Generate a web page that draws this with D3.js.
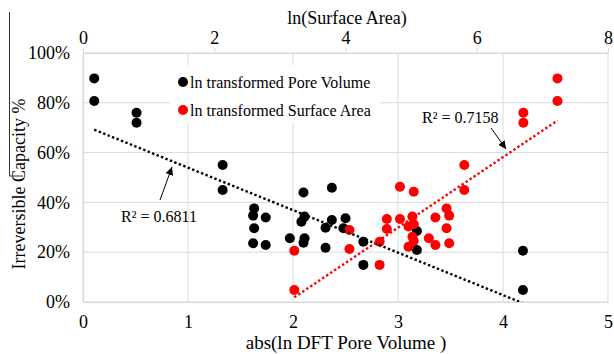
<!DOCTYPE html>
<html>
<head>
<meta charset="utf-8">
<script src="https://cdn.jsdelivr.net/npm/d3@7"></script>
<style>
  body { margin: 0; background: #fff; }
  svg { display: block; font-family: "Liberation Serif", "Times New Roman", serif; }
</style>
</head>
<body>
<svg id="chart" width="614" height="354"></svg>
<script>
// abs(ln DFT Pore Volume) vs irreversible capacity (black, bottom axis)
const poreX = [0.107, 0.107, 0.51, 0.51, 1.33, 1.33, 1.63, 1.62, 1.74, 1.63, 1.62, 1.74, 1.97,
    2.10, 2.11, 2.08, 2.11, 2.10, 2.37, 2.37, 2.31, 2.31, 2.50, 2.48, 2.67, 2.67, 3.18, 3.18, 4.19, 4.19];
const poreY = [0.898, 0.807, 0.760, 0.720, 0.550, 0.450, 0.376, 0.347, 0.339, 0.296, 0.236, 0.229, 0.256,
    0.440, 0.343, 0.322, 0.256, 0.238, 0.459, 0.329, 0.298, 0.218, 0.336, 0.296, 0.242, 0.149, 0.285, 0.209, 0.206, 0.048];

// ln(Surface Area) vs irreversible capacity (red, top axis)
const areaX = [7.23, 7.23, 6.71, 6.71, 5.81, 5.81, 5.54, 5.58, 5.37, 5.54, 5.58, 5.37, 5.27,
    5.04, 5.02, 5.04, 4.96, 5.02, 5.04, 4.96, 4.83, 4.83, 4.63, 4.63, 4.52, 4.52, 4.06, 4.06, 3.22, 3.22];
const areaY = [0.898, 0.807, 0.760, 0.720, 0.550, 0.450, 0.376, 0.347, 0.339, 0.296, 0.236, 0.229, 0.256,
    0.443, 0.343, 0.312, 0.303, 0.262, 0.245, 0.222, 0.463, 0.333, 0.333, 0.293, 0.242, 0.149, 0.289, 0.213, 0.206, 0.048];

const bottomTicks = [0, 1, 2, 3, 4, 5];
const topTicks = [0, 2, 4, 6, 8];
const yTicks = [0, 0.2, 0.4, 0.6, 0.8, 1.0];
const seriesNames = ['ln transformed Pore Volume', 'ln transformed Surface Area'];
const r2Labels = ['R\u00b2 = 0.6811', 'R\u00b2 = 0.7158'];

const svg = d3.select('#chart');
const pLeft = 83, pRight = 608, pTop = 53, pBottom = 302;

const x = d3.scaleLinear().domain([0, 5]).range([pLeft, pRight]);
const x2 = d3.scaleLinear().domain([0, 8]).range([pLeft, pRight]);
const y = d3.scaleLinear().domain([0, 1]).range([pBottom, pTop]);

const grid = '#d9d9d9';

// gridlines
svg.append('g').selectAll('line')
    .data(yTicks)
    .join('line')
    .attr('x1', pLeft).attr('x2', pRight)
    .attr('y1', d => y(d)).attr('y2', d => y(d))
    .attr('stroke', grid).attr('stroke-width', 1);

svg.append('g').selectAll('line')
    .data(bottomTicks)
    .join('line')
    .attr('x1', d => x(d)).attr('x2', d => x(d))
    .attr('y1', pTop).attr('y2', pBottom)
    .attr('stroke', grid).attr('stroke-width', 1);

// axes
const yAxis = svg.append('g')
    .attr('transform', `translate(${pLeft},0)`)
    .call(d3.axisLeft(y).tickValues(yTicks).tickFormat(d3.format('.0%')).tickSize(0).tickPadding(13));
const xAxis = svg.append('g')
    .attr('transform', `translate(0,${pBottom})`)
    .call(d3.axisBottom(x).tickValues(bottomTicks).tickFormat(d3.format('d')).tickSize(0).tickPadding(13));
const x2Axis = svg.append('g')
    .attr('transform', `translate(0,${pTop})`)
    .call(d3.axisTop(x2).tickValues(topTicks).tickFormat(d3.format('d')).tickSizeInner(5).tickSizeOuter(0).tickPadding(4));

[yAxis, xAxis, x2Axis].forEach(a => {
    a.select('.domain').attr('stroke', grid);
    a.selectAll('.tick line').attr('stroke', grid);
    a.selectAll('.tick text')
        .attr('fill', '#000')
        .style('font-size', '18px')
        .style('font-family', '"Liberation Serif", serif');
});

// axis titles
svg.append('text')
    .attr('x', 347).attr('y', 24)
    .attr('text-anchor', 'middle')
    .style('font-size', '18px')
    .text('ln(Surface Area)');

svg.append('text')
    .attr('x', 346).attr('y', 349)
    .attr('text-anchor', 'middle')
    .style('font-size', '19px')
    .text('abs(ln DFT Pore Volume )');

svg.append('text')
    .attr('transform', 'translate(25,184) rotate(-90)')
    .attr('text-anchor', 'middle')
    .style('font-size', '18px')
    .text('Irreversible Capacity %');

// stray border line next to the y title
svg.append('path')
    .attr('d', 'M9.5,12 V176 H23')
    .attr('fill', 'none')
    .attr('stroke', '#333')
    .attr('stroke-width', 1);

// legend (white box hides gridlines behind it)
const legend = svg.append('g');
legend.append('rect')
    .attr('x', 170).attr('y', 65)
    .attr('width', 210).attr('height', 58)
    .attr('fill', '#fff');
const colors = ['#000', '#ff0000'];
const items = legend.selectAll('g.item')
    .data(seriesNames)
    .join('g')
    .attr('class', 'item')
    .attr('transform', (d, i) => `translate(183,${82 + i * 28})`);
items.append('circle')
    .attr('r', 5)
    .attr('fill', (d, i) => colors[i]);
items.append('text')
    .attr('x', 7).attr('y', 5.5)
    .style('font-size', '16px')
    .text(d => d);

// clip for trendlines
svg.append('clipPath').attr('id', 'plotclip')
    .append('rect')
    .attr('x', pLeft).attr('y', pTop)
    .attr('width', pRight - pLeft).attr('height', bottom_h());
function bottom_h() { return pBottom - pTop; }

// least squares fit
function fit(xs, ys) {
    const mx = d3.mean(xs), my = d3.mean(ys);
    let sxy = 0, sxx = 0;
    xs.forEach((v, i) => { sxy += (v - mx) * (ys[i] - my); sxx += (v - mx) * (v - mx); });
    const slope = sxy / sxx;
    return { slope: slope, icept: my - slope * mx };
}

// points
const black = poreX.map((v, i) => ({ x: v, y: poreY[i] }));
const red = areaX.map((v, i) => ({ x: v, y: areaY[i] }));

svg.append('g').selectAll('circle')
    .data(black)
    .join('circle')
    .attr('cx', d => x(d.x)).attr('cy', d => y(d.y))
    .attr('r', 5)
    .attr('fill', '#000');

svg.append('g').selectAll('circle')
    .data(red)
    .join('circle')
    .attr('cx', d => x2(d.x)).attr('cy', d => y(d.y))
    .attr('r', 5)
    .attr('fill', '#ff0000');

// trendlines
const trends = [
    { xs: poreX, ys: poreY, sc: x, color: '#000' },
    { xs: areaX, ys: areaY, sc: x2, color: '#ff0000' }
];
trends.forEach(t => {
    const f = fit(t.xs, t.ys);
    const ext = d3.extent(t.xs);
    svg.append('line')
        .attr('clip-path', 'url(#plotclip)')
        .attr('x1', t.sc(ext[0])).attr('y1', y(f.icept + f.slope * ext[0]))
        .attr('x2', t.sc(ext[1])).attr('y2', y(f.icept + f.slope * ext[1]))
        .attr('stroke', t.color)
        .attr('stroke-width', 2.4)
        .attr('stroke-dasharray', '2.4 2.4');
});

// R² labels with arrows
svg.append('defs').append('marker')
    .attr('id', 'arrow')
    .attr('viewBox', '0 0 10 10')
    .attr('refX', 10).attr('refY', 5)
    .attr('markerWidth', 8).attr('markerHeight', 8)
    .attr('markerUnits', 'userSpaceOnUse')
    .attr('orient', 'auto')
    .append('path')
    .attr('d', 'M0,0 L10,5 L0,10 z')
    .attr('fill', '#000');

svg.append('line')
    .attr('x1', 160).attr('y1', 200).attr('x2', 172).attr('y2', 167)
    .attr('stroke', '#000').attr('stroke-width', 1)
    .attr('marker-end', 'url(#arrow)');
svg.append('line')
    .attr('x1', 491).attr('y1', 128).attr('x2', 506).attr('y2', 149)
    .attr('stroke', '#000').attr('stroke-width', 1)
    .attr('marker-end', 'url(#arrow)');

svg.append('text')
    .attr('x', 121).attr('y', 222)
    .style('font-size', '16px')
    .text(r2Labels[0]);
svg.append('text')
    .attr('x', 422).attr('y', 123)
    .style('font-size', '16px')
    .text(r2Labels[1]);
</script>
</body>
</html>
